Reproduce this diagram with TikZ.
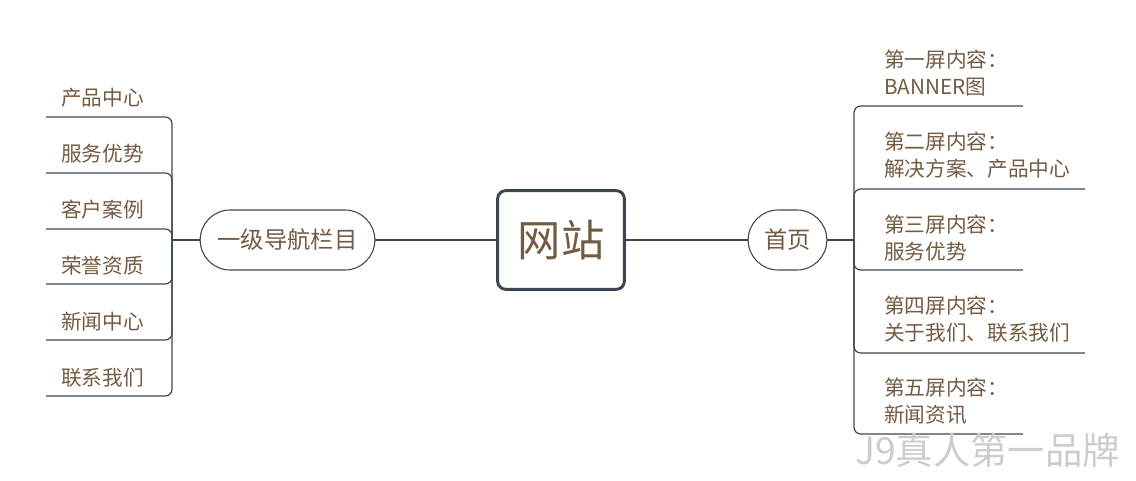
\documentclass[tikz,border=0pt]{standalone}
\usepackage{fontspec}
\setmainfont{Noto Sans CJK SC}
\definecolor{txt}{HTML}{735A42}
\definecolor{ln}{HTML}{3C4650}
\definecolor{wm}{HTML}{CDCDCD}
\tikzset{
  leaf/.style={anchor=west, text=txt, font=\fontsize{15.5}{20.25}\selectfont, inner sep=0pt, align=left},
  branch/.style={draw=ln, line width=0.9pt, rounded corners=5pt},
  mainline/.style={draw=ln, line width=2.2pt},
  pill/.style={draw=ln, line width=0.8pt, rounded corners=22.5pt, minimum height=45pt, text=txt, font=\fontsize{17.5}{20}\selectfont, inner sep=0pt},
}
\begin{document}
\begin{tikzpicture}[x=0.75pt,y=-0.75pt]
\useasboundingbox (0,0) rectangle (1136,481);
% center
\node[draw=ln, line width=2.2pt, rounded corners=6pt, minimum width=95pt, minimum height=74pt, text=txt, font=\fontsize{32.5}{36}\selectfont, inner sep=0pt] (root) at (561,240) {网站};
\node[pill, minimum width=131pt] (nav) at (287.5,240) {一级导航栏目};
\node[pill, minimum width=59pt] (home) at (787.5,240) {首页};
\draw[mainline] (nav.east) -- (root.west);
\draw[mainline] (root.east) -- (home.west);
% left leaves
\node[leaf] (l1) at (61,98) {产品中心};
\node[leaf] (l2) at (61,154) {服务优势};
\node[leaf] (l3) at (61,210) {客户案例};
\node[leaf] (l4) at (61,266) {荣誉资质};
\node[leaf] (l5) at (61,322) {新闻中心};
\node[leaf] (l6) at (61,378) {联系我们};
\coordinate (LJ) at (172,240);
\coordinate (lu1) at (46,117);
\coordinate (lu2) at (46,173);
\coordinate (lu3) at (46,229);
\coordinate (lu4) at (46,284);
\coordinate (lu5) at (46,340);
\coordinate (lu6) at (46,396);
\draw[draw=ln, line width=0.9pt] (nav.west) -- (LJ);
\foreach \i in {1,...,6} {\draw[branch] (LJ) |- (lu\i);}
% right leaves
\node[leaf] (r1) at (884,73.5) {第一屏内容：\\BANNER图};
\node[leaf] (r2) at (884,155.5) {第二屏内容：\\解决方案、产品中心};
\node[leaf] (r3) at (884,238) {第三屏内容：\\服务优势};
\node[leaf] (r4) at (884,319.5) {第四屏内容：\\关于我们、联系我们};
\node[leaf] (r5) at (884,401.5) {第五屏内容：\\新闻资讯};
\coordinate (RJ) at (854,240);
\coordinate (ru1) at (1023,106);
\coordinate (ru2) at (1085,189);
\coordinate (ru3) at (1023,270);
\coordinate (ru4) at (1085,353);
\coordinate (ru5) at (1023,434);
\draw[draw=ln, line width=0.9pt] (home.east) -- (RJ);
\foreach \i in {1,...,5} {\draw[branch] (RJ) |- (ru\i);}
% watermark
\node[anchor=west, text=wm, font=\fontsize{28}{30}\selectfont, inner sep=0pt] (wmk) at (855,450) {J9真人第一品牌};
\end{tikzpicture}
\end{document}
